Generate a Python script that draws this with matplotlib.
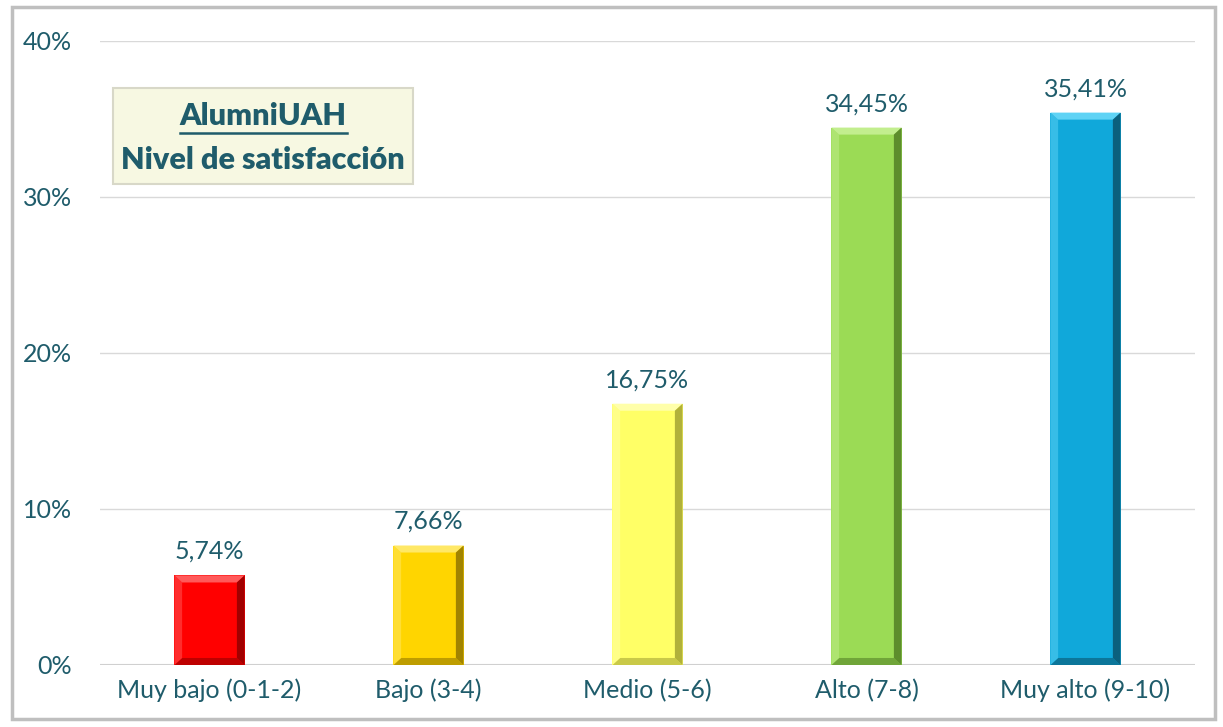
import matplotlib.pyplot as plt
from matplotlib.patches import Rectangle, Polygon, FancyBboxPatch
from matplotlib.ticker import FuncFormatter

plt.rcParams['font.family'] = ['Lato', 'DejaVu Sans']

categories = ['Muy bajo (0-1-2)', 'Bajo (3-4)', 'Medio (5-6)', 'Alto (7-8)', 'Muy alto (9-10)']
values = [5.74, 7.66, 16.75, 34.45, 35.41]
labels = ['5,74%', '7,66%', '16,75%', '34,45%', '35,41%']
colors = ['#FF0000', '#FFD500', '#FFFF66', '#9BDB55', '#10A8DA']
light = ['#FF5A5A', '#FFE866', '#FFFFAA', '#C2EE8E', '#5FD3F5']
dark = ['#8A0000', '#8A7000', '#9E9E30', '#4E7A22', '#0A4E66']

text_color = '#1F5C6B'

fig = plt.figure(figsize=(12.23, 7.27), dpi=100)
ax = fig.add_axes([100 / 1223, 1 - 665 / 727, 1095 / 1223, 624 / 727])

x = list(range(len(categories)))
width = 0.32
bars = ax.bar(x, values, width=width, color=colors, zorder=3, edgecolor='none')

# bevel effect
bx = 0.035
by = 0.45
for i, b in enumerate(bars):
    x0 = b.get_x()
    x1 = x0 + b.get_width()
    h = b.get_height()
    top = Polygon([(x0, h), (x1, h), (x1 - bx, h - by), (x0 + bx, h - by)],
                  closed=True, color=light[i], zorder=4, lw=0)
    right = Polygon([(x1, h), (x1, 0), (x1 - bx, by), (x1 - bx, h - by)],
                    closed=True, color=dark[i], zorder=4, lw=0, alpha=0.8)
    bottom = Polygon([(x0, 0), (x1, 0), (x1 - bx, by), (x0 + bx, by)],
                     closed=True, color=dark[i], zorder=4, lw=0, alpha=0.55)
    left = Polygon([(x0, 0), (x0, h), (x0 + bx, h - by), (x0 + bx, by)],
                   closed=True, color=light[i], zorder=4, lw=0, alpha=0.5)
    for p in (top, right, bottom, left):
        ax.add_patch(p)
    ax.text(b.get_x() + b.get_width() / 2, h + 0.8, labels[i], ha='center', va='bottom',
            fontsize=18, color=text_color, zorder=5)

ax.set_xlim(-0.5, len(categories) - 0.5)
ax.set_ylim(0, 40)
ax.set_yticks([0, 10, 20, 30, 40])
ax.yaxis.set_major_formatter(FuncFormatter(lambda v, p: '%d%%' % v))
ax.set_xticks(x)
ax.set_xticklabels(categories)
ax.tick_params(axis='both', length=0, labelsize=18, labelcolor=text_color)
ax.tick_params(axis='y', pad=20)
ax.tick_params(axis='x', pad=10)
ax.grid(axis='y', color='#D9D9D9', lw=1, zorder=0)
for s in ax.spines.values():
    s.set_visible(False)
ax.axhline(0, color='#D0D0D0', lw=1.5, zorder=2)

# title box
box = FancyBboxPatch((113 / 1223, 1 - 184 / 727), 300 / 1223, 96 / 727,
                     boxstyle='square,pad=0', transform=fig.transFigure,
                     facecolor='#F7F8E2', edgecolor='#D8D8C8', lw=1.5, zorder=1)
fig.patches.append(box)
t1 = fig.text(263 / 1223, 1 - 116 / 727, 'AlumniUAH', ha='center', va='center',
              fontsize=22, fontweight='heavy', color=text_color, zorder=10)
fig.text(263 / 1223, 1 - 160 / 727, 'Nivel de satisfacción', ha='center', va='center',
         fontsize=22, fontweight='heavy', color=text_color, zorder=10)

# underline under the first title line
fig.canvas.draw()
bb = t1.get_window_extent().transformed(fig.transFigure.inverted())
fig.add_artist(plt.Line2D([bb.x0, bb.x1], [1 - 133 / 727, 1 - 133 / 727],
                          transform=fig.transFigure, color=text_color, lw=1.8, zorder=10))

# outer frame
frame = Rectangle((12 / 1223, 8 / 727), 1203 / 1223, 712 / 727, transform=fig.transFigure,
                  fill=False, edgecolor='#BFBFBF', lw=2.5)
fig.patches.append(frame)

fig.savefig('out.png', dpi=100)
